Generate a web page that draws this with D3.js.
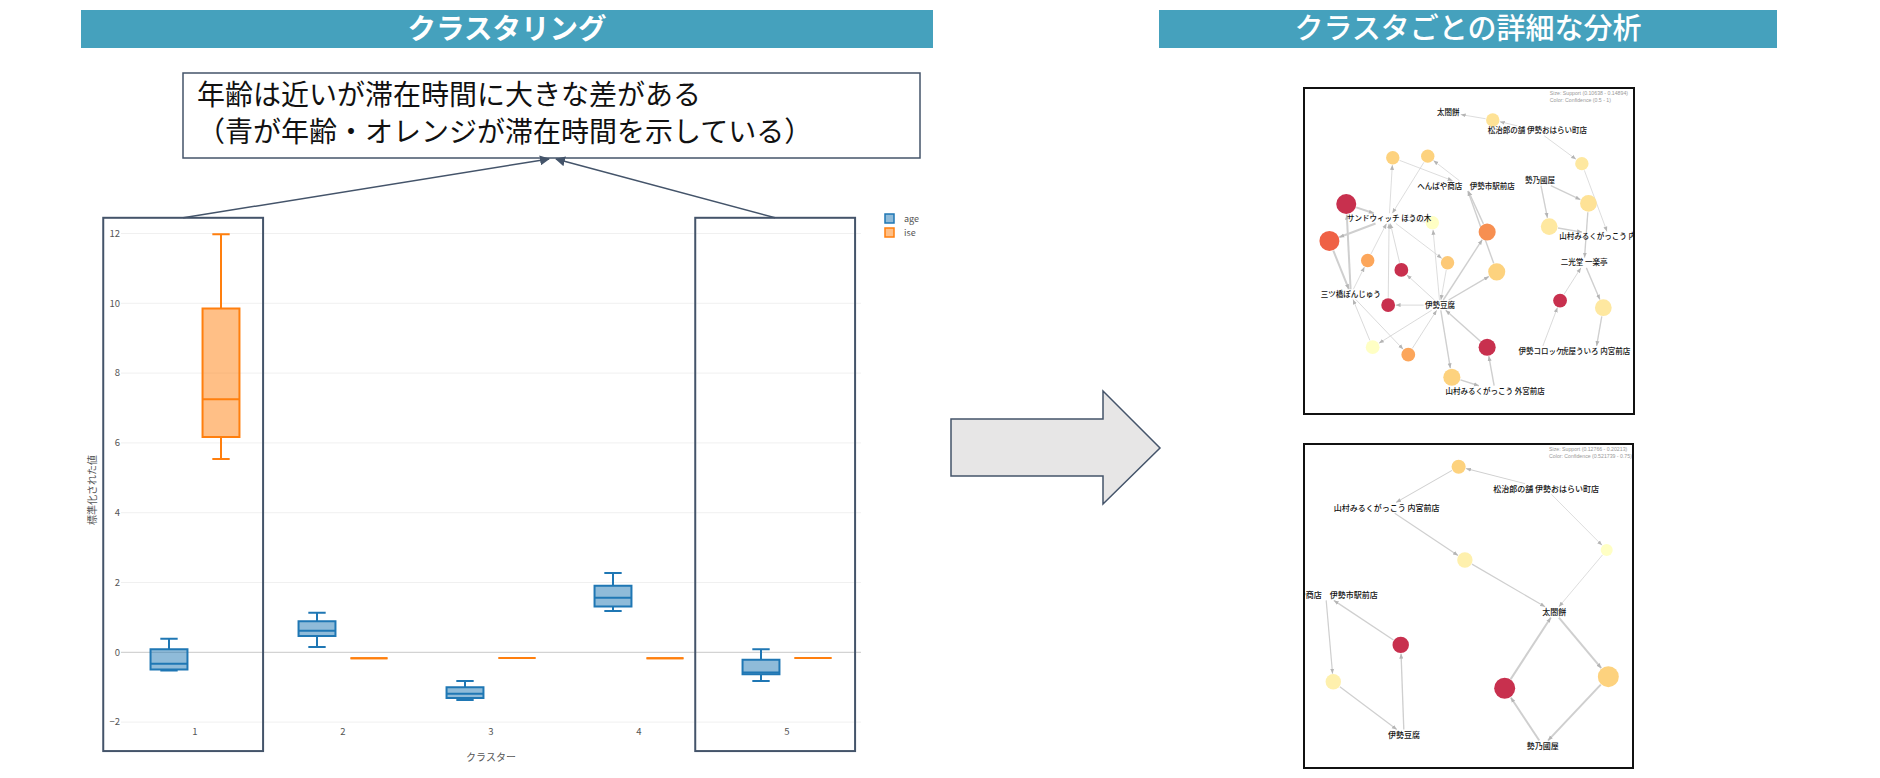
<!DOCTYPE html>
<html>
<head>
<meta charset="utf-8">
<script src="https://cdn.jsdelivr.net/npm/d3@7"></script>
<style>
	body { margin: 0; background: #fff; }
	text { font-family: "Noto Sans CJK JP", "Noto Sans", sans-serif; }
</style>
</head>
<body>
<svg id="slide" width="1880" height="778"></svg>
<script>
/*=================
=== The data
=================*/
var clusters = ['1', '2', '3', '4', '5'];
var seriesNames = ['age', 'ise'];
var seriesColors = ['#1f77b4', '#ff7f0e'];
var seriesFills = ['rgba(31,119,180,0.5)', 'rgba(255,127,14,0.5)'];
// [lower whisker, q1, median, q3, upper whisker] per cluster
var ageStats = [
	[-0.52, -0.49, -0.33, 0.09, 0.39],
	[0.15, 0.47, 0.62, 0.89, 1.13],
	[-1.37, -1.31, -1.19, -1.00, -0.82],
	[1.18, 1.31, 1.56, 1.91, 2.27],
	[-0.82, -0.63, -0.58, -0.21, 0.09]
];
var iseStats = [
	[5.54, 6.17, 7.25, 9.85, 11.98],
	[-0.17, -0.17, -0.17, -0.17, -0.17],
	[-0.16, -0.16, -0.16, -0.16, -0.16],
	[-0.17, -0.17, -0.17, -0.17, -0.17],
	[-0.16, -0.16, -0.16, -0.16, -0.16]
];
var yTicks = [-2, 0, 2, 4, 6, 8, 10, 12];
var highlighted = ['1', '5'];
var leftTitle = 'クラスタリング';
var rightTitle = 'クラスタごとの詳細な分析';
var noteLines = ['年齢は近いが滞在時間に大きな差がある', '（青が年齢・オレンジが滞在時間を示している）'];

// network 1 (layout coords 0-1)
var net1Rules = [
	{ id: 'r1', x: 0.572, y: 0.098, support: 0.1064, confidence: 0.60 },
	{ id: 'r2', x: 0.269, y: 0.214, support: 0.1064, confidence: 0.65 },
	{ id: 'r3', x: 0.375, y: 0.209, support: 0.1064, confidence: 0.65 },
	{ id: 'r4', x: 0.842, y: 0.232, support: 0.1064, confidence: 0.58 },
	{ id: 'r5', x: 0.862, y: 0.354, support: 0.1280, confidence: 0.60 },
	{ id: 'r6', x: 0.128, y: 0.356, support: 0.1489, confidence: 1.00 },
	{ id: 'r7', x: 0.389, y: 0.413, support: 0.1050, confidence: 0.50 },
	{ id: 'r8', x: 0.743, y: 0.425, support: 0.1280, confidence: 0.58 },
	{ id: 'r9', x: 0.555, y: 0.442, support: 0.1300, confidence: 0.80 },
	{ id: 'r10', x: 0.077, y: 0.469, support: 0.1489, confidence: 0.88 },
	{ id: 'r11', x: 0.193, y: 0.529, support: 0.1064, confidence: 0.75 },
	{ id: 'r12', x: 0.295, y: 0.558, support: 0.1090, confidence: 1.00 },
	{ id: 'r13', x: 0.435, y: 0.536, support: 0.1064, confidence: 0.67 },
	{ id: 'r14', x: 0.584, y: 0.564, support: 0.1300, confidence: 0.65 },
	{ id: 'r15', x: 0.255, y: 0.666, support: 0.1090, confidence: 1.00 },
	{ id: 'r16', x: 0.776, y: 0.652, support: 0.1090, confidence: 1.00 },
	{ id: 'r17', x: 0.907, y: 0.674, support: 0.1280, confidence: 0.58 },
	{ id: 'r18', x: 0.208, y: 0.795, support: 0.1090, confidence: 0.50 },
	{ id: 'r19', x: 0.316, y: 0.818, support: 0.1090, confidence: 0.75 },
	{ id: 'r20', x: 0.555, y: 0.795, support: 0.1300, confidence: 1.00 },
	{ id: 'r21', x: 0.448, y: 0.887, support: 0.1300, confidence: 0.65 }
];
var net1Items = [
	{ id: 'i1', label: '太閤餅', x: 0.437, y: 0.075 },
	{ id: 'i2', label: '松治郎の舗 伊勢おはらい町店', x: 0.707, y: 0.131 },
	{ id: 'i3', label: 'へんばや商店　伊勢市駅前店', x: 0.491, y: 0.300 },
	{ id: 'i4', label: '勢乃國屋', x: 0.715, y: 0.284 },
	{ id: 'i5', label: 'サンドウィッチ ほうの木', x: 0.258, y: 0.400 },
	{ id: 'i6', label: '山村みるくがっこう 内宮前店', x: 0.924, y: 0.456 },
	{ id: 'i7', label: '二光堂 一楽亭', x: 0.849, y: 0.536 },
	{ id: 'i8', label: '三ツ橋ぽんじゅう', x: 0.142, y: 0.633 },
	{ id: 'i9', label: '伊勢豆腐', x: 0.412, y: 0.666 },
	{ id: 'i10', label: '伊勢コロッケ', x: 0.718, y: 0.807 },
	{ id: 'i11', label: '虎屋ういろ 内宮前店', x: 0.884, y: 0.807 },
	{ id: 'i12', label: '山村みるくがっこう 外宮前店', x: 0.579, y: 0.929 }
];
var net1Edges = [
	['i2', 'r1'], ['r1', 'i1'], ['i2', 'r4'], ['r4', 'i6'],
	['i4', 'r5'], ['r5', 'i7'], ['i4', 'r8'], ['r8', 'i6'],
	['i10', 'r16'], ['r16', 'i7'], ['i7', 'r17'], ['r17', 'i11'],
	['i5', 'r2'], ['r2', 'i3'], ['i3', 'r3'], ['r3', 'i5'],
	['i8', 'r6'], ['r6', 'i5'], ['i5', 'r10'], ['r10', 'i8'],
	['i9', 'r9'], ['r9', 'i3'], ['i9', 'r14'], ['r14', 'i3'],
	['i9', 'r7'], ['r7', 'i5'], ['i8', 'r11'], ['r11', 'i5'],
	['i9', 'r12'], ['r12', 'i5'], ['i5', 'r13'], ['r13', 'i9'],
	['i9', 'r15'], ['r15', 'i5'], ['i9', 'r18'], ['r18', 'i8'],
	['i8', 'r19'], ['r19', 'i9'], ['i12', 'r20'], ['r20', 'i9'],
	['i9', 'r21'], ['r21', 'i12']
];
var net1Support = [0.10638, 0.14894];
var net1Confidence = [0.5, 1];
var net1Legend = ['Size: Support (0.10638 - 0.14894)', 'Color: Confidence (0.5 - 1)'];

// network 2
var net2Rules = [
	{ id: 'q1', x: 0.470, y: 0.070, support: 0.1450, confidence: 0.59 },
	{ id: 'q2', x: 0.489, y: 0.358, support: 0.1560, confidence: 0.545 },
	{ id: 'q3', x: 0.920, y: 0.327, support: 0.1277, confidence: 0.5217 },
	{ id: 'q4', x: 0.294, y: 0.620, support: 0.1640, confidence: 0.75 },
	{ id: 'q5', x: 0.089, y: 0.734, support: 0.1560, confidence: 0.545 },
	{ id: 'q6', x: 0.610, y: 0.754, support: 0.2021, confidence: 0.75 },
	{ id: 'q7', x: 0.925, y: 0.718, support: 0.2021, confidence: 0.59 }
];
var net2Items = [
	{ id: 'j1', label: '山村みるくがっこう 内宮前店', x: 0.251, y: 0.197 },
	{ id: 'j2', label: '松治郎の舗 伊勢おはらい町店', x: 0.736, y: 0.139 },
	{ id: 'j3', label: 'へんばや商店　伊勢市駅前店', x: 0.066, y: 0.466 },
	{ id: 'j4', label: '太閤餅', x: 0.761, y: 0.519 },
	{ id: 'j5', label: '伊勢豆腐', x: 0.304, y: 0.898 },
	{ id: 'j6', label: '勢乃國屋', x: 0.726, y: 0.932 }
];
var net2Edges = [
	['j2', 'q1'], ['q1', 'j1'], ['j1', 'q2'], ['q2', 'j4'],
	['j2', 'q3'], ['q3', 'j4'], ['j6', 'q6'], ['q6', 'j4'],
	['j4', 'q7'], ['q7', 'j6'], ['j3', 'q5'], ['q5', 'j5'],
	['j5', 'q4'], ['q4', 'j3']
];
var net2Support = [0.12766, 0.20213];
var net2Confidence = [0.521739, 0.75];
var net2Legend = ['Size: Support (0.12766 - 0.20213)', 'Color: Confidence (0.521739 - 0.75)'];

/*=================
=== The vars
=================*/
var svg = d3.select('#slide');
var slate = '#44546a';
var headerBlue = '#45a1bd';

var defs = svg.append('defs');
defs.append('marker')
	.attr('id', 'note-arrow')
	.attr('viewBox', '0 0 10 10')
	.attr('refX', 9).attr('refY', 5)
	.attr('markerWidth', 10).attr('markerHeight', 10)
	.attr('markerUnits', 'userSpaceOnUse')
	.attr('orient', 'auto')
	.append('path').attr('d', 'M0,0 L10,5 L0,10 Z').attr('fill', slate);
defs.append('marker')
	.attr('id', 'net-arrow')
	.attr('viewBox', '0 0 10 10')
	.attr('refX', 10).attr('refY', 5)
	.attr('markerWidth', 5).attr('markerHeight', 5)
	.attr('markerUnits', 'userSpaceOnUse')
	.attr('orient', 'auto')
	.append('path').attr('d', 'M0,1 L10,5 L0,9 Z').attr('fill', '#b5b5b5');

/*=================
=== Headers
=================*/
function header(x0, x1, title, weight, size) {
	svg.append('rect')
		.attr('x', x0).attr('y', 10)
		.attr('width', x1 - x0).attr('height', 38)
		.attr('fill', headerBlue);
	svg.append('text')
		.attr('x', (x0 + x1) / 2).attr('y', 29)
		.attr('dy', '0.36em')
		.attr('text-anchor', 'middle')
		.attr('fill', '#fff')
		.style('font-size', size + 'px')
		.style('font-weight', weight)
		.text(title);
}
header(81, 933, leftTitle, 700, 28.5);
header(1159, 1777, rightTitle, 500, 29);

/*=================
=== Box plot
=================*/
var x = d3.scaleBand().domain(clusters).range([121, 861]);
var xSub = d3.scaleBand().domain(seriesNames).range([-52, 52]);
var y = d3.scaleLinear().domain([-2, 12]).range([722.1, 233.5]);
var boxHalf = xSub.bandwidth() * 0.355;

var plot = svg.append('g').attr('class', 'boxplot');

plot.selectAll('.grid')
	.data(yTicks)
	.enter().append('line')
	.attr('x1', x.range()[0]).attr('x2', x.range()[1])
	.attr('y1', function (d) { return y(d); })
	.attr('y2', function (d) { return y(d); })
	.attr('stroke', function (d) { return d === 0 ? '#c8c8c8' : '#f0f0f0'; })
	.attr('stroke-width', 1);

plot.selectAll('.ytick')
	.data(yTicks)
	.enter().append('text')
	.attr('x', 120).attr('y', function (d) { return y(d); })
	.attr('dy', '0.35em')
	.attr('text-anchor', 'end')
	.attr('fill', '#555')
	.style('font-size', '9.5px')
	.text(function (d) { return d < 0 ? '−' + Math.abs(d) : d; });

plot.selectAll('.xtick')
	.data(clusters)
	.enter().append('text')
	.attr('x', function (d) { return x(d) + x.bandwidth() / 2; })
	.attr('y', 732)
	.attr('dy', '0.35em')
	.attr('text-anchor', 'middle')
	.attr('fill', '#555')
	.style('font-size', '9.5px')
	.text(function (d) { return d; });

plot.append('text')
	.attr('x', (x.range()[0] + x.range()[1]) / 2).attr('y', 757)
	.attr('dy', '0.35em')
	.attr('text-anchor', 'middle')
	.attr('fill', '#555')
	.style('font-size', '10px')
	.text('クラスター');

plot.append('text')
	.attr('transform', 'translate(92,490) rotate(-90)')
	.attr('dy', '0.35em')
	.attr('text-anchor', 'middle')
	.attr('fill', '#555')
	.style('font-size', '10px')
	.text('標準化された値');

var allStats = [ageStats, iseStats];
seriesNames.forEach(function (name, si) {
	var g = plot.append('g').attr('class', 'series-' + name);
	clusters.forEach(function (c, ci) {
		var s = allStats[si][ci];
		var cx = x(c) + x.bandwidth() / 2 + xSub(name) + xSub.bandwidth() / 2;
		var x0 = cx - boxHalf, x1 = cx + boxHalf;
		var capHalf = boxHalf * 0.47;
		var col = seriesColors[si];
		// whiskers
		var wp = 'M' + cx + ',' + y(s[0]) + 'V' + y(s[1]) +
			'M' + cx + ',' + y(s[3]) + 'V' + y(s[4]) +
			'M' + (cx - capHalf) + ',' + y(s[0]) + 'H' + (cx + capHalf) +
			'M' + (cx - capHalf) + ',' + y(s[4]) + 'H' + (cx + capHalf);
		if (s[4] > s[0]) {
			g.append('path').attr('d', wp).attr('stroke', col).attr('stroke-width', 2).attr('fill', 'none');
		}
		g.append('path')
			.attr('d', 'M' + x0 + ',' + y(s[1]) + 'H' + x1 + 'V' + y(s[3]) + 'H' + x0 + 'Z')
			.attr('fill', seriesFills[si])
			.attr('stroke', col)
			.attr('stroke-width', 2);
		g.append('line')
			.attr('x1', x0).attr('x2', x1)
			.attr('y1', y(s[2])).attr('y2', y(s[2]))
			.attr('stroke', col).attr('stroke-width', 2);
	});
});

// legend
var legend = plot.append('g').attr('transform', 'translate(885,214)');
seriesNames.forEach(function (name, i) {
	legend.append('rect')
		.attr('x', 0).attr('y', i * 14)
		.attr('width', 9).attr('height', 9)
		.attr('fill', seriesFills[i])
		.attr('stroke', seriesColors[i]).attr('stroke-width', 1.5);
	legend.append('text')
		.attr('x', 19).attr('y', i * 14 + 4.5)
		.attr('dy', '0.35em')
		.attr('fill', '#555')
		.style('font-size', '9px')
		.text(name);
});

/*=================
=== Highlights and note
=================*/
var hl = highlighted.map(function (c) {
	var step = x.step();
	var left = x(c) + step * 0.5 - step * 0.62;
	var right = x(c) + step * 0.5 + step * 0.46;
	return { x0: left, x1: right, top: y(12.45), bottom: y(-2.83) };
});
svg.selectAll('.hl')
	.data(hl)
	.enter().append('rect')
	.attr('x', function (d) { return d.x0; })
	.attr('y', function (d) { return d.top; })
	.attr('width', function (d) { return d.x1 - d.x0; })
	.attr('height', function (d) { return d.bottom - d.top; })
	.attr('fill', 'none')
	.attr('stroke', slate)
	.attr('stroke-width', 2);

var note = { x0: 183, y0: 73, x1: 920, y1: 158 };
svg.append('rect')
	.attr('x', note.x0).attr('y', note.y0)
	.attr('width', note.x1 - note.x0).attr('height', note.y1 - note.y0)
	.attr('fill', '#fff')
	.attr('stroke', slate).attr('stroke-width', 1.5);
svg.selectAll('.note-line')
	.data(noteLines)
	.enter().append('text')
	.attr('x', 197)
	.attr('y', function (d, i) { return 95 + i * 37; })
	.attr('dy', '0.36em')
	.attr('fill', '#111')
	.style('font-size', '28px')
	.text(function (d) { return d; });

var tips = [549, 556];
hl.forEach(function (d, i) {
	svg.append('line')
		.attr('x1', (d.x0 + d.x1) / 2).attr('y1', d.top)
		.attr('x2', tips[i]).attr('y2', note.y1 + 1)
		.attr('stroke', slate).attr('stroke-width', 1.5)
		.attr('marker-end', 'url(#note-arrow)');
});

/*=================
=== Big arrow
=================*/
svg.append('path')
	.attr('d', 'M951,419 H1103 V391 L1160,448 L1103,504 V476 H951 Z')
	.attr('fill', '#e7e6e6')
	.attr('stroke', slate)
	.attr('stroke-width', 1.5);

/*=================
=== Networks
=================*/
var ramp = d3.scaleLinear()
	.domain([0, 0.16, 0.3, 0.5, 0.62, 0.78, 1])
	.range(['#ffffc4', '#fee8a0', '#fdd27e', '#fca65b', '#f68b4f', '#ee5b44', '#c8304e'])
	.clamp(true);

function drawNetwork(box, rules, items, edges, supportRange, confRange, legendLines, fontSize, rRange, idx) {
	var px = d3.scaleLinear().domain([0, 1]).range([box.x, box.x + box.w]);
	var py = d3.scaleLinear().domain([0, 1]).range([box.y, box.y + box.h]);
	var rScale = d3.scaleLinear().domain(supportRange).range(rRange).clamp(true);
	var cScale = d3.scaleLinear().domain(confRange).range([0, 1]);
	var wScale = d3.scaleLinear().domain(supportRange).range([0.7, 2]).clamp(true);

	defs.append('clipPath').attr('id', 'clip' + idx)
		.append('rect').attr('x', box.x).attr('y', box.y).attr('width', box.w).attr('height', box.h);

	var g = svg.append('g').attr('clip-path', 'url(#clip' + idx + ')');
	g.append('rect').attr('x', box.x).attr('y', box.y).attr('width', box.w).attr('height', box.h).attr('fill', '#fff');
	var edgeG = g.append('g');
	var nodeG = g.append('g');
	var labelG = g.append('g');

	var nodes = {};
	rules.forEach(function (r) {
		nodes[r.id] = { type: 'rule', x: px(r.x), y: py(r.y), r: rScale(r.support), support: r.support };
	});

	labelG.selectAll('text')
		.data(items)
		.enter().append('text')
		.attr('x', function (d) { return px(d.x); })
		.attr('y', function (d) { return py(d.y); })
		.attr('dy', '0.36em')
		.attr('text-anchor', 'middle')
		.attr('fill', '#111')
		.style('font-size', fontSize + 'px')
		.style('font-weight', 500)
		.text(function (d) { return d.label; })
		.each(function (d) {
			var bb = this.getBBox();
			nodes[d.id] = { type: 'item', x: px(d.x), y: py(d.y), hw: bb.width / 2 + 1, hh: fontSize * 0.55 + 1 };
		});

	function trim(a, b) {
		// point on a's boundary facing b
		var dx = b.x - a.x, dy = b.y - a.y, len = Math.sqrt(dx * dx + dy * dy) || 1;
		if (a.type === 'rule') return [a.x + dx / len * (a.r + 0.5), a.y + dy / len * (a.r + 0.5)];
		var t = Math.min(a.hw / Math.abs(dx || 1e-6), a.hh / Math.abs(dy || 1e-6));
		t = Math.min(t, 0.45);
		return [a.x + dx * t, a.y + dy * t];
	}

	edgeG.selectAll('line')
		.data(edges)
		.enter().append('line')
		.each(function (e) {
			var a = nodes[e[0]], b = nodes[e[1]];
			var p = trim(a, b), q = trim(b, a);
			var rule = a.type === 'rule' ? a : b;
			d3.select(this)
				.attr('x1', p[0]).attr('y1', p[1])
				.attr('x2', q[0]).attr('y2', q[1])
				.attr('stroke-width', wScale(rule.support));
		})
		.attr('stroke', '#cfcfcf')
		.attr('marker-end', 'url(#net-arrow)');

	nodeG.selectAll('circle')
		.data(rules)
		.enter().append('circle')
		.attr('cx', function (d) { return px(d.x); })
		.attr('cy', function (d) { return py(d.y); })
		.attr('r', function (d) { return rScale(d.support); })
		.attr('fill', function (d) { return ramp(cScale(d.confidence)); });

	g.selectAll('.net-legend')
		.data(legendLines)
		.enter().append('text')
		.attr('x', box.x + box.w * 0.745)
		.attr('y', function (d, i) { return box.y + 7 + i * 6.5; })
		.attr('fill', '#999')
		.style('font-size', '5.2px')
		.style('font-family', 'Arial, "Liberation Sans", sans-serif')
		.text(function (d) { return d; });

	svg.append('rect')
		.attr('x', box.x).attr('y', box.y).attr('width', box.w).attr('height', box.h)
		.attr('fill', 'none')
		.attr('stroke', '#111')
		.attr('stroke-width', 2);
}

drawNetwork({ x: 1304, y: 88, w: 330, h: 326 }, net1Rules, net1Items, net1Edges,
	net1Support, net1Confidence, net1Legend, 7.5, [6.7, 10], 1);
drawNetwork({ x: 1304, y: 444, w: 329, h: 324 }, net2Rules, net2Items, net2Edges,
	net2Support, net2Confidence, net2Legend, 8, [6, 10.5], 2);
</script>
</body>
</html>
